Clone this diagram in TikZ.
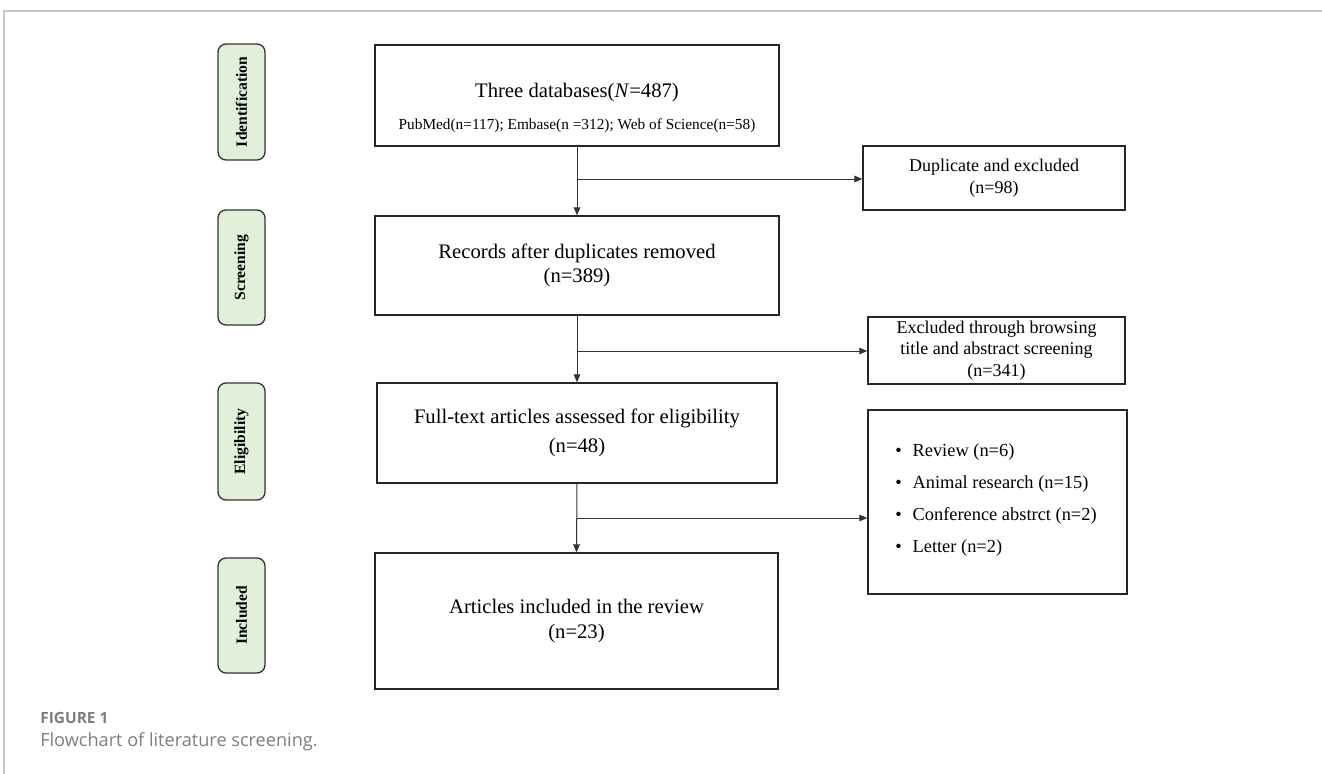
\documentclass[tikz,border=0pt]{standalone}
\usepackage{fontspec}
\setmainfont{Liberation Serif}
\newfontfamily\capfont{Open Sans}
\usetikzlibrary{arrows.meta}
\definecolor{sidegreen}{HTML}{E2EFDA}
\definecolor{capgray}{HTML}{7E7E7E}
\definecolor{framegray}{HTML}{C8C8C8}
\newcommand\fmain{\fontsize{15.5}{21.5}\selectfont}
\newcommand\fsub{\fontsize{11.5}{14}\selectfont}
\newcommand\fright{\fontsize{13.5}{16.3}\selectfont}
\newcommand\fside{\fontsize{11.7}{14}\selectfont\bfseries}
\begin{document}
\begin{tikzpicture}[x=0.75pt,y=-0.75pt,
  mbox/.style 2 args={draw=black!85,line width=1.1pt,minimum width=#1*0.75pt,minimum height=#2*0.75pt,inner sep=0pt,align=center},
  sidebox/.style 2 args={draw=black!80,fill=sidegreen,line width=1pt,rounded corners=6pt,minimum width=#1*0.75pt,minimum height=#2*0.75pt,inner sep=0pt,rotate=90,font=\fside},
  arr/.style={draw=black!80,line width=0.75pt,-{Triangle[length=6pt,width=5pt]}},
  frame/.style={draw=framegray,line width=1pt},
  captxt/.style={anchor=base west,inner sep=0pt,text=capgray}
]
\useasboundingbox (0,0) rectangle (1322,774);
% frame
\coordinate (fl) at (4,774);
\coordinate (fc) at (4,11);
\coordinate (fr) at (1322,11);
\draw[frame] (fl) -- (fc) -- (fr);

% side labels
\node[sidebox={116}{47}] (s1) at (241.5,102) {Identification};
\node[sidebox={115}{47}] (s2) at (241.5,267.5) {Screening};
\node[sidebox={117}{47}] (s3) at (241.5,441.5) {Eligibility};
\node[sidebox={115}{47}] (s4) at (241.5,615.5) {Included};

% main boxes
\node[mbox={404}{101}] (b1) at (577,95.5) {};
\node[align=center,inner sep=0pt] (t1) at (577,108) {{\fmain Three databases(\textit{N}=487)}\\[12pt]{\fsub PubMed(n=117); Embase(n =312); Web of Science(n=58)}};
\node[mbox={404}{99},font=\fmain] (b2) at (577,265.5) {\raisebox{-3pt}{Records after duplicates removed}\\(n=389)};
\node[mbox={400}{100},font=\fmain] (b3) at (577,433) {Full-text articles assessed for eligibility\\(n=48)};
\node[mbox={403}{136},font=\fmain] (b4) at (576.5,621) {\raisebox{-3pt}{Articles included in the review}\\(n=23)};

% right boxes
\node[mbox={262}{64},font=\fright] (dup) at (994,178) {Duplicate and excluded\\(n=98)};
\node[mbox={257}{67},font=\fright] (exc) at (996.5,350.5) {Excluded through browsing\\title and abstract screening\\(n=341)};
\node[draw=black!85,line width=1.1pt,minimum width=259*0.75pt,minimum height=184*0.75pt,inner sep=0pt] (bul) at (997.5,502) {};
\node[anchor=west,align=left,inner sep=0pt,font=\fontsize{13.8}{23.8}\selectfont] (bl) at (895,500) {\makebox[13pt][l]{•}Review (n=6)\\\makebox[13pt][l]{•}Animal research (n=15)\\\makebox[13pt][l]{•}Conference abstrct (n=2)\\\makebox[13pt][l]{•}Letter (n=2)};

% connectors
\coordinate (j1) at (577,179);
\coordinate (j2) at (577,351);
\coordinate (j3) at (577,518);
\draw[arr] (b1.south) -- (b2.north);
\draw[arr] (j1) -- (dup.west |- j1);
\draw[arr] (b2.south) -- (b3.north);
\draw[arr] (j2) -- (exc.west |- j2);
\draw[arr] (b3.south) -- (b4.north);
\draw[arr] (j3) -- (bul.west |- j3);

% caption
\node[captxt,font=\capfont\fontsize{11.6}{14}\selectfont\bfseries] (c1) at (40,723) {FIGURE 1};
\node[captxt,font=\capfont\fontsize{13.6}{16}\selectfont] (c2) at (40,746) {Flowchart of literature screening.};
\end{tikzpicture}
\end{document}
